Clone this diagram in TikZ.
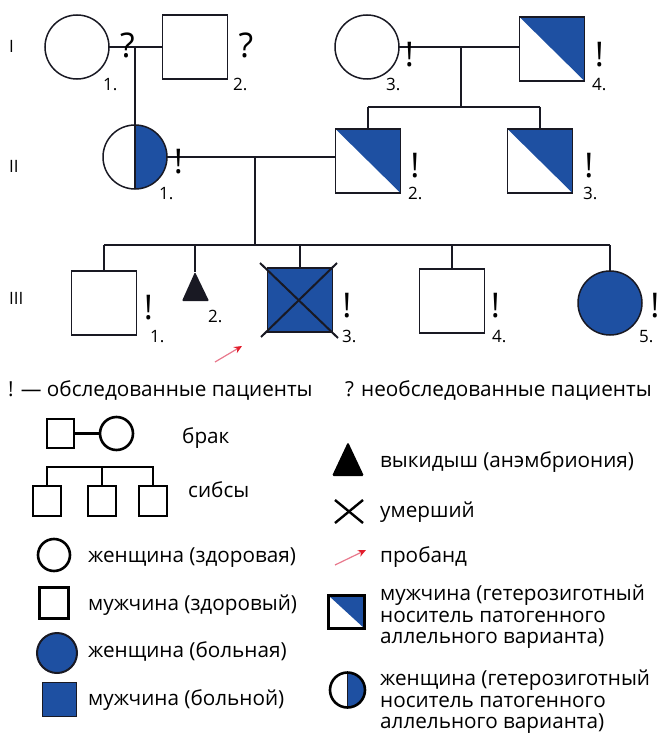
\documentclass[tikz,border=0pt]{standalone}
\usepackage{fontspec}
\setmainfont{Open Sans}
\usetikzlibrary{arrows.meta,calc}
\definecolor{pblue}{RGB}{30,80,162}
\definecolor{pedge}{RGB}{25,25,35}
\definecolor{arrowpink}{RGB}{232,120,140}
\definecolor{arrowred}{RGB}{226,30,45}
\begin{document}
\begin{tikzpicture}[x=1pt,y=-1pt,
  ln/.style={line width=1.5pt, draw=pedge},
  male/.style={ln, rectangle, minimum width=65pt, minimum height=64pt, inner sep=0pt, outer sep=0pt},
  female/.style={ln, circle, minimum size=64pt, inner sep=0pt, outer sep=0pt},
  sick/.style={fill=pblue},
  carrierM/.style={path picture={\fill[pblue] (path picture bounding box.north west) -- (path picture bounding box.north east) -- (path picture bounding box.south east) -- cycle;}},
  carrierF/.style={path picture={\fill[pblue] (path picture bounding box.north) rectangle (path picture bounding box.south east);
      \draw[line width=1.5pt, pedge] (path picture bounding box.north) -- (path picture bounding box.south);}},
  exc/.style={font=\fontsize{34}{34}\selectfont, inner sep=0pt, anchor=base},
  num/.style={font=\fontsize{17}{17}\selectfont, inner sep=0pt, anchor=base west},
  lgt/.style={font=\fontsize{20.7}{22}\selectfont, inner sep=0pt, anchor=base west},
  lg/.style={line width=2.6pt, draw=black, inner sep=0pt, outer sep=0pt},
  probandarrow/.style={draw=arrowpink, line width=1.2pt, -{Stealth[length=8pt,width=7pt,color=arrowred]}}
]
\useasboundingbox (0,0) rectangle (662,733);

% generation labels
\node[num] (g1) at (9,53) {I};
\node[num] (g2) at (9,172) {II};
\node[num] (g3) at (9,304) {III};

% generation I
\node[female] (i1) at (77,47) {};
\node[male] (i2) at (195,47) {};
\node[female] (i3) at (367,47) {};
\node[male, carrierM] (i4) at (552,49) {};

% generation II
\node[female, carrierF] (ii1) at (135,157) {};
\node[male, carrierM] (ii2) at (368,161) {};
\node[male, carrierM] (ii3) at (540,161) {};

% generation III
\node[male] (iii1) at (104,303) {};
\coordinate (iii2) at (195,272);
\fill[pedge, rounded corners=1pt] (iii2) -- (209,301) -- (182,301) -- cycle;
\node[male, sick] (iii3) at (300,300) {};
\node[male] (iii4) at (452,301) {};
\node[female, sick] (iii5) at (610,303) {};

% deceased cross
\draw[line width=2pt, pedge] ($(iii3.center)+(-40,-37)$) -- ($(iii3.center)+(38,38)$);
\draw[line width=2pt, pedge] ($(iii3.center)+(-39,37)$) -- ($(iii3.center)+(37,-37)$);

% connectors
\coordinate (m1) at (135,47);
\draw[ln] (i1.east) -- (i2.west);
\draw[ln] (m1) -- (ii1.north);

\coordinate (m2) at (461,47);
\coordinate (s2) at (461,107);
\draw[ln] (i3.east) -- (i3.east -| i4.west);
\draw[ln] (m2) -- (s2);
\draw[ln] (ii2.north |- s2) -- (ii3.north |- s2);
\draw[ln] (ii2.north |- s2) -- (ii2.north);
\draw[ln] (ii3.north |- s2) -- (ii3.north);

\coordinate (m3) at (255,157);
\coordinate (s3) at (255,245);
\draw[ln] (ii1.east) -- (ii1.east -| ii2.west);
\draw[ln] (m3) -- (s3);
\draw[ln] (iii1.north |- s3) -- (iii5.north |- s3);
\draw[ln] (iii1.north |- s3) -- (iii1.north);
\draw[ln] (iii2 |- s3) -- (iii2);
\draw[ln] (iii3.north |- s3) -- (iii3.north);
\draw[ln] (iii4.north |- s3) -- (iii4.north);
\draw[ln] (iii5.north |- s3) -- (iii5.north);

% proband arrow
\coordinate (pt) at (215,362);
\coordinate (ph) at (242,346);
\draw[probandarrow] (pt) -- (ph);

% marks
\node[exc] (q1) at (127.5,58) {?};
\node[exc] (q2) at (246,58) {?};
\node[exc] (e13) at (409.5,67) {!};
\node[exc] (e14) at (599.5,67) {!};
\node[exc] (e21) at (178.5,173) {!};
\node[exc] (e22) at (415,177) {!};
\node[exc] (e23) at (589,177) {!};
\node[exc] (e31) at (148.5,319) {!};
\node[exc] (e33) at (347,317) {!};
\node[exc] (e34) at (495.5,317) {!};
\node[exc] (e35) at (655,317) {!};

% numbers
\node[num] (n11) at (103,91) {1.};
\node[num] (n12) at (233,91) {2.};
\node[num] (n13) at (386,91) {3.};
\node[num] (n14) at (592,91) {4.};
\node[num] (n21) at (159,199) {1.};
\node[num] (n22) at (408,199) {2.};
\node[num] (n23) at (583,199) {3.};
\node[num] (n31) at (150,342) {1.};
\node[num] (n32) at (208,322) {2.};
\node[num] (n33) at (342,342) {3.};
\node[num] (n34) at (492,342) {4.};
\node[num] (n35) at (639,342) {5.};

% legend header
\node[lgt] (t1) at (8,396) {! — обследованные пациенты};
\node[lgt] (t2) at (345,396) {? необследованные пациенты};

% marriage legend
\node[lg, rectangle, minimum width=27pt, minimum height=29pt] (lm) at (60.5,433.5) {};
\node[lg, circle, minimum size=33pt] (lf) at (116.5,433.5) {};
\draw[line width=2.6pt] (lm.east) -- (lf.west);
\node[lgt] (tb) at (182,443) {брак};

% sibs legend
\node[lg, rectangle, minimum width=28pt, minimum height=30pt] (ls1) at (47,501) {};
\node[lg, rectangle, minimum width=28pt, minimum height=30pt] (ls2) at (102,501) {};
\node[lg, rectangle, minimum width=28pt, minimum height=30pt] (ls3) at (153,501) {};
\coordinate (lsl) at (47,467);
\draw[line width=2.6pt, line cap=rect] (ls1.north |- lsl) -- (ls3.north |- lsl);
\draw[line width=2.6pt] (ls1.north |- lsl) -- (ls1.north);
\draw[line width=2.6pt] (ls2.north |- lsl) -- (ls2.north);
\draw[line width=2.6pt] (ls3.north |- lsl) -- (ls3.north);
\node[lgt] (ts) at (188,497) {сибсы};

% left column legend
\node[lg, circle, minimum size=32pt] (lc1) at (54,555) {};
\node[lgt] (tc1) at (88,562) {женщина (здоровая)};
\node[lg, rectangle, minimum width=29pt, minimum height=31pt] (lq1) at (54,603) {};
\node[lgt] (tq1) at (88,610) {мужчина (здоровый)};
\node[lg, circle, minimum size=40pt, fill=pblue, draw=pedge, line width=2pt] (lc2) at (57,653) {};
\node[lgt] (tc2) at (88,657) {женщина (больная)};
\node[lg, rectangle, minimum width=34pt, minimum height=34pt, fill=pblue, draw=pedge, line width=1.8pt] (lq2) at (59.5,699.5) {};
\node[lgt] (tq2) at (88,705) {мужчина (больной)};

% right column legend
\coordinate (ltr) at (348,442);
\fill[black, rounded corners=1.5pt] (ltr) -- (364,476) -- (332,476) -- cycle;
\node[lgt] (tt) at (380,467) {выкидыш (анэмбриония)};

\coordinate (lx1) at (335,500);
\coordinate (lx2) at (363,523);
\coordinate (lx3) at (335,523);
\coordinate (lx4) at (363,500);
\draw[line width=2.4pt] (lx1) -- (lx2);
\draw[line width=2.4pt] (lx3) -- (lx4);
\node[lgt] (tx) at (380,517) {умерший};

\coordinate (la1) at (335,565);
\coordinate (la2) at (366,550);
\draw[probandarrow] (la1) -- (la2);
\node[lgt] (ta) at (380,562) {пробанд};

\node[lg, rectangle, minimum width=36pt, minimum height=33pt, carrierM] (lhm) at (346.5,612) {};
\node[lgt] (th1) at (380,600) {мужчина (гетерозиготный};
\node[lgt] (th2) at (380,622) {носитель патогенного};
\node[lgt] (th3) at (380,643) {аллельного варианта)};

\node[lg, circle, minimum size=35pt, carrierF] (lhf) at (347.5,690) {};
\node[lgt] (tf1) at (380,685) {женщина (гетерозиготный};
\node[lgt] (tf2) at (380,707) {носитель патогенного};
\node[lgt] (tf3) at (380,728) {аллельного варианта)};
\end{tikzpicture}
\end{document}
